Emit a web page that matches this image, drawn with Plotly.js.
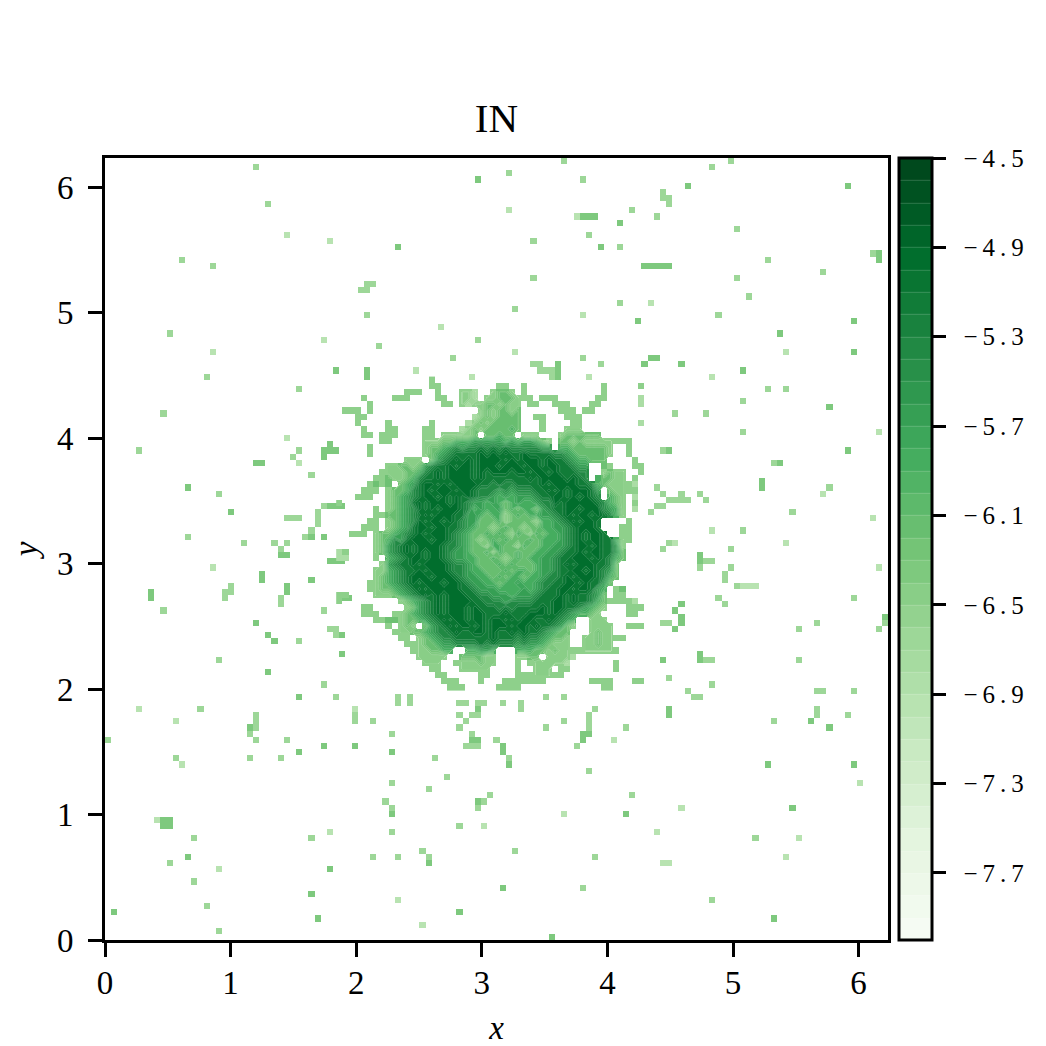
<!DOCTYPE html>
<html><head><meta charset="utf-8">
<script src="https://cdn.plot.ly/plotly-3.0.1.min.js"></script>
<style>html,body{margin:0;padding:0;background:#fff}</style></head>
<body><div id="chart" style="width:1046px;height:1046px"></div>
<script>
const gridCount = 128;
const titleText = 'IN';
const tickValsAxis = [0,1,2,3,4,5,6];
const barTickVals = [-4.5,-4.9,-5.3,-5.7,-6.1,-6.5,-6.9,-7.3,-7.7];
const greens = [[0,'#f7fcf5'],[0.125,'#e5f5e0'],[0.25,'#c7e9c0'],[0.375,'#a1d99b'],[0.5,'#74c476'],[0.625,'#41ab5d'],[0.75,'#238b45'],[0.875,'#006d2c'],[1,'#00441b']];
// log-density levels used by the digit rows below
const digitLevels = [-7.4,-7.1,-6.8,-6.5,-6.2,-5.9,-5.65,-5.4,-5.15,-4.95];
const blobFirstCol = 38, blobFirstRow = 36;
// central region: one string per grid row (top to bottom), one digit per grid column, '.' = blank
const blobRows = [
".......... .....3.... .......... .......... .......... .",
".......... .....33... ......33.. 3......... ...3.....3 .",
".......... .333..3... 332..3443. 3......... ...3...... .",
"....3....3 33....33.. 332.334443 33.333.... ..33.....2 .",
".....3.... .......33. 3233443433 .33..333.. .33......2 .",
".333.3.... .......... ...3434434 ......333. 33........ .",
"...33..... .......... ..23434444 ..33...333 .......... .",
"...3....3. .....3.... .234344444 ...3....33 .........2 .",
"....3...33 ....33.... 2343444454 ...3...333 .......... .",
"....33.333 ....33.333 334.44544. 333...3444 444....... .",
".......33. ....333445 5566666565 66543.4434 33333333.. .",
".....3.... ....344567 6778787877 77766.5544 44443..3.. .",
".....3.... ....345678 8889898988 9888877654 44443..3.. .",
".......... .333.46789 8989999898 9998988765 5444....3. .",
"........33 4434678898 9989998999 8998998876 6..43...33 .",
".......333 3445789899 9989899989 9899898887 7..3433..3 .",
"......3343 3457889899 9989888888 8989999898 7.54433.3. .",
".....3434. 4568998989 9998878778 8889899998 875433332. .",
"....333.34 4578989998 9987776767 7788989899 986.43333. .",
"...333..34 5678998989 8987765656 6678899898 987.543.2. .",
"3.......34 5689899989 8766565456 5567798999 9987543.3. .",
"......3.34 5679898999 8756556454 5546788998 9997653.2. .",
"......3344 5678989998 8665455345 4556678989 9898753... .",
".....33.34 5679899898 7664445344 4435567898 998....3.. .",
"....333.34 5689989988 7654434544 3445566789 998...33.. .",
"..333.3445 6789899987 6544545435 4354556789 8998..33.. .",
"......3457 6899989987 6543454544 4545556789 89988533.. .",
"......3467 8989999877 6544355443 5445566789 9898863... .",
"23....3467 8989899876 6544535445 4455667889 8998864... .",
"22....3.56 7899899876 6554454345 4556678899 9898754... .",
".......367 8898999987 7654445454 4456678989 998874.... .",
"......3356 7889899987 7655444545 5456678899 898764.... .",
"......3456 7899989998 7665545455 4556778989 998754.... .",
".....33456 7898999899 8766554556 5567788998 98864..... .",
".....33445 6789899999 8876665555 6567889989 9865.34... .",
"33....3334 5678989899 9887766656 6678889898 8764.33... .",
"3......... 3456789899 9988777677 7788899898 875433332. .",
"....33.... .346789899 9898887878 8889899887 6543...333 .",
"....333..3 3456789899 9899888988 8999898765 543....33. .",
"......3344 3445678989 9899899898 998898765. .333...... .",
"........3. 343.467898 9989899989 989887643. .3333..333 .",
".........3 3344567789 8899898898 98876544.. .3433..... .",
".......... 33.3456778 8888898887 87765443.. 3343333... .",
".......... .333445667 7778787776 76654333.. 33433..... .",
".......... ..3334455. .55665...5 5544343333 333333.... .",
".......... ...33333.. 444433...3 344.33332. .......... .",
".......... ....333..3 333433...3 .3333332.. .....3.... .",
".......... .....33... 33333....3 ..333.33.. .....3.... .",
".......... ......33.. ...33....3 3333333... .......... .",
".......... .......333 ...3...333 3333...... .3333...33 .",
".......... ........33 3.....3333 .......... ...33..... ."
];
// isolated small patches outside the central region: [column, row from top], by shade
const patchLight = [[29,12],[36,13],[35,29],[17,31],[59,35],[50,34],[54,27],[65,8],[77,25],[88,23],[66,31],[110,31],[78,35],[98,35],[29,45],[31,49],[17,66],[125,44],[125,66],[103,69],[104,69],[105,69],[116,54],[11,91],[5,89],[40,89],[36,109],[51,124],[47,120],[82,94],[110,113],[112,110],[89,109],[90,114],[91,114],[74,106],[8,107],[98,60],[92,62],[18,115],[61,108],[12,98],[76,9],[124,58],[110,62],[93,105],[122,101]];
const patchMid = [[24,1],[26,7],[12,16],[17,17],[42,25],[10,28],[44,30],[60,29],[56,32],[16,35],[41,21],[42,21],[42,20],[43,20],[74,0],[65,2],[77,3],[98,1],[101,0],[90,5],[90,6],[91,6],[91,7],[85,8],[89,9],[102,11],[78,12],[69,13],[83,14],[124,15],[107,16],[116,18],[69,19],[102,19],[104,22],[83,23],[66,24],[99,25],[77,32],[80,33],[69,33],[70,33],[70,34],[71,34],[72,34],[72,35],[31,37],[9,41],[5,47],[30,48],[31,47],[33,51],[18,54],[29,62],[27,62],[28,63],[22,62],[13,61],[32,61],[33,60],[34,58],[34,59],[35,56],[34,57],[31,58],[29,58],[30,58],[19,70],[20,70],[19,71],[20,69],[28,72],[28,71],[35,73],[9,73],[36,76],[37,76],[37,77],[31,78],[18,81],[35,85],[37,87],[15,89],[107,37],[110,37],[103,39],[92,41],[97,41],[103,44],[90,47],[108,49],[117,53],[111,57],[89,53],[90,54],[91,55],[92,55],[93,54],[93,55],[94,55],[96,54],[97,55],[90,56],[89,56],[88,57],[103,60],[90,63],[91,62],[101,63],[97,65],[98,65],[96,66],[101,66],[100,67],[100,68],[102,69],[99,71],[100,72],[121,71],[91,75],[90,75],[112,76],[115,75],[125,76],[126,75],[97,81],[98,81],[112,81],[91,84],[98,85],[94,86],[95,87],[96,87],[115,86],[116,86],[121,86],[115,89],[24,90],[24,91],[24,92],[23,93],[24,94],[0,94],[29,94],[40,90],[40,91],[43,91],[46,93],[23,97],[28,97],[53,97],[11,97],[55,100],[46,101],[52,102],[45,104],[46,105],[60,105],[61,104],[62,103],[57,108],[46,109],[14,110],[33,110],[43,113],[47,113],[51,112],[52,113],[10,114],[14,117],[16,121],[18,125],[71,92],[74,91],[71,87],[74,87],[79,89],[78,90],[78,91],[78,92],[76,95],[84,92],[108,91],[115,90],[120,90],[65,97],[78,99],[85,103],[105,110],[66,112],[79,113],[77,118],[98,120],[67,88],[67,89],[64,88],[57,88],[58,88],[60,88],[61,88],[57,90],[60,90],[59,90],[58,91],[57,92],[59,93],[58,95],[59,95],[60,95],[63,94],[47,88],[49,88],[47,87],[49,87]];
const patchDark = [[47,14],[60,3],[37,34],[42,34],[42,35],[94,4],[120,4],[77,9],[78,9],[79,9],[83,10],[80,14],[125,15],[125,16],[87,17],[88,17],[89,17],[90,17],[91,17],[86,26],[121,26],[109,28],[121,31],[73,33],[73,34],[73,35],[87,33],[88,32],[89,32],[93,33],[103,34],[36,46],[35,47],[36,47],[37,47],[35,48],[24,49],[25,49],[13,53],[20,57],[35,61],[33,61],[36,56],[37,56],[38,56],[37,65],[38,65],[36,65],[28,64],[29,64],[25,67],[25,68],[33,68],[29,69],[29,70],[7,70],[7,71],[38,71],[39,71],[24,75],[38,77],[26,77],[27,78],[38,80],[26,83],[31,87],[117,40],[120,47],[91,47],[109,49],[106,52],[106,53],[96,64],[96,65],[93,72],[92,73],[93,74],[93,75],[92,76],[126,74],[96,80],[96,81],[90,81],[23,92],[35,95],[40,95],[46,96],[31,96],[46,106],[60,104],[9,107],[10,107],[9,108],[10,108],[13,113],[52,114],[36,115],[33,119],[1,122],[57,122],[34,123],[64,118],[59,94],[60,94],[60,89],[64,95],[64,96],[65,98],[77,93],[78,93],[77,94],[91,89],[91,90],[84,106],[117,92],[107,98],[121,98],[111,105],[108,123],[72,126],[114,91]];
const patchLevels = {light:-6.95, mid:-6.65, dark:-6.35};

const dx = 2*Math.PI/gridCount;
const gridIdx = Array.from({length:gridCount},(_,i)=>i);
const hx = gridIdx.slice(0,gridCount-1).map(i=>(i+0.5)*dx);
const hy = hx.slice();
const hz = hy.map(()=>hx.map(()=>null));
function put(list,val){list.forEach(p=>{hz[gridCount-2-p[1]][p[0]]=val;});}
put(patchLight,patchLevels.light);put(patchMid,patchLevels.mid);put(patchDark,patchLevels.dark);

const cleanRows = blobRows.map(s=>s.replace(/ /g,''));
const nCols = 51, nRows = cleanRows.length;
const cx = Array.from({length:nCols},(_,i)=>(blobFirstCol+i)*dx);
const cy = cleanRows.map((s,k)=>(gridCount-1-(blobFirstRow+k))*dx).reverse();
const bz = cleanRows.map(s=>{const row=[];for(let i=0;i<nCols;i++){const ch=s[i];row.push(ch>='0'&&ch<='9'?digitLevels[+ch]:null);}return row;}).reverse();
// contour only where a solid block exists; thin fringes stay as cells
const cz = bz.map(r=>r.map(()=>null));
for(let k=0;k<nRows-2;k++)for(let i=0;i<nCols-2;i++){
  let full=true;for(let a=0;a<3;a++)for(let b=0;b<3;b++)if(bz[k+a][i+b]===null)full=false;
  if(full)for(let a=0;a<3;a++)for(let b=0;b<3;b++)cz[k+a][i+b]=bz[k+a][i+b];
}
const serif = '"Liberation Serif","DejaVu Serif",serif';
const barTickText = barTickVals.map(v=>'\u00a0\u00a0\u2212\u2009'+Math.abs(v).toFixed(1).replace('.','\u2009.\u2009'));
const traces = [
 {type:'heatmap',x:hx,y:hy,z:hz,zmin:-8,zmax:-4.5,colorscale:greens,showscale:false,hoverongaps:false},
 {type:'heatmap',x:cx,y:cy,z:bz,zmin:-8,zmax:-4.5,colorscale:greens,showscale:false,hoverongaps:false},
 {type:'contour',x:cx,y:cy,z:cz,zmin:-8,zmax:-4.5,colorscale:greens,connectgaps:false,
  contours:{coloring:'fill',start:-8,end:-4.5,size:0.1,showlines:true},
  line:{color:'rgba(255,255,255,0.3)',width:0.6,smoothing:0},
  colorbar:{x:1.014,xanchor:'left',xpad:0,ypad:0,y:0.5,yanchor:'middle',len:1,lenmode:'fraction',thickness:33,thicknessmode:'pixels',
    outlinecolor:'#000',outlinewidth:3,tickmode:'array',tickvals:barTickVals,ticktext:barTickText,ticks:'outside',ticklen:13,tickwidth:3,tickcolor:'#000',
    tickfont:{family:serif,size:25,color:'#000'}}}
];
const axisBase = {showgrid:false,zeroline:false,showline:true,linecolor:'#000',linewidth:3,mirror:true,ticks:'outside',ticklen:14,tickwidth:3,tickcolor:'#000',
  tickmode:'array',tickvals:tickValsAxis,tickfont:{family:serif,size:33,color:'#000'},range:[0,(gridCount-1)*dx]};
const layout = {width:1046,height:1046,margin:{l:105,r:158,t:158,b:106,pad:0},paper_bgcolor:'#fff',plot_bgcolor:'#fff',
  title:{text:titleText,x:0.5,xref:'paper',xanchor:'center',y:0.888,yref:'container',yanchor:'middle',font:{family:serif,size:41,color:'#000'}},
  xaxis:Object.assign({},axisBase,{ticklabelstandoff:-3,title:{text:'<i>x</i>',font:{family:serif,size:33,color:'#000'},standoff:19}}),
  yaxis:Object.assign({},axisBase,{ticklabelstandoff:8,title:{text:'<i>y</i>',font:{family:serif,size:33,color:'#000'},standoff:10}})};
Plotly.newPlot('chart',traces,layout,{displayModeBar:false,staticPlot:true});
</script></body></html>
